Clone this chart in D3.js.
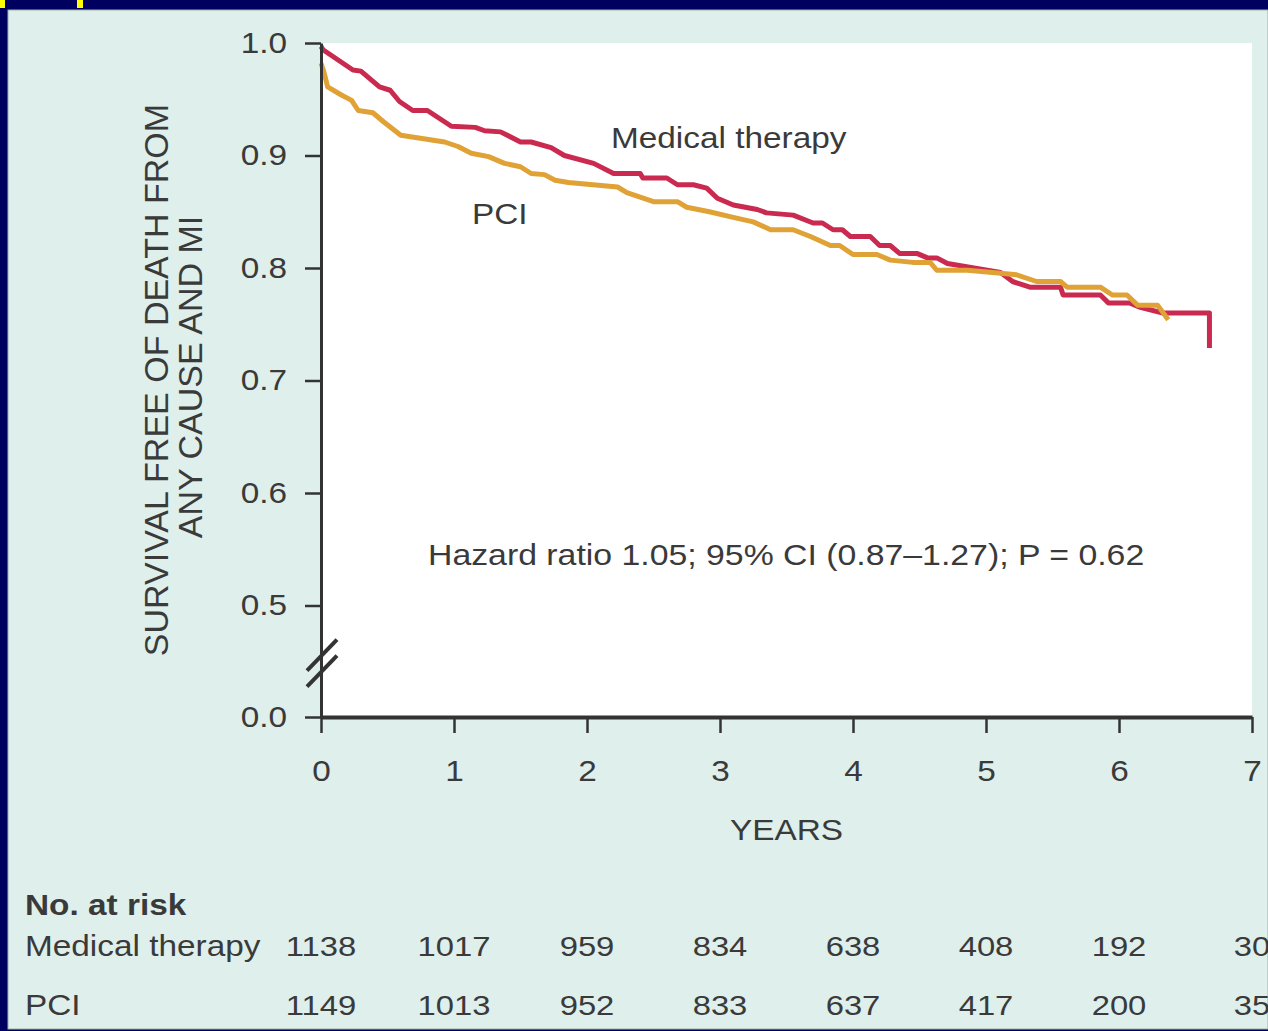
<!DOCTYPE html>
<html>
<head>
<meta charset="utf-8">
<script src="https://cdn.jsdelivr.net/npm/d3@7"></script>
<style>
  html, body { margin: 0; padding: 0; background: #00005e; }
  svg { display: block; }
</style>
</head>
<body>
<div id="chart"></div>
<script>

// Kaplan-Meier curves (years, survival)
const medYears = [0, 0.015, 0.24, 0.30, 0.44, 0.52, 0.59, 0.69, 0.80, 0.98, 1.16, 1.23, 1.35, 1.50, 1.58, 1.73, 1.83,
    2.05, 2.20, 2.40, 2.42, 2.60, 2.68, 2.80, 2.90, 2.98, 3.10, 3.28, 3.35, 3.55, 3.70, 3.77, 3.85, 3.92, 3.98,
    4.13, 4.20, 4.28, 4.35, 4.48, 4.56, 4.63, 4.71, 5.11, 5.20, 5.33, 5.56, 5.58, 5.86, 5.92, 6.08, 6.16, 6.33,
    6.68, 6.68];
const medSurv = [0.997, 0.994, 0.976, 0.975, 0.961, 0.958, 0.948, 0.940, 0.940, 0.926, 0.925, 0.922, 0.921, 0.912, 0.912, 0.907, 0.900,
    0.893, 0.884, 0.884, 0.880, 0.880, 0.874, 0.874, 0.871, 0.862, 0.856, 0.852, 0.849, 0.847, 0.840, 0.840, 0.834, 0.834, 0.828,
    0.828, 0.820, 0.820, 0.813, 0.813, 0.809, 0.809, 0.804, 0.796, 0.788, 0.783, 0.783, 0.776, 0.776, 0.769, 0.769, 0.765, 0.760,
    0.760, 0.729];

const pciYears = [0, 0.02, 0.05, 0.15, 0.23, 0.28, 0.39, 0.47, 0.60, 0.71, 0.93, 1.03, 1.13, 1.26, 1.38, 1.50, 1.58, 1.68,
    1.76, 1.86, 2.23, 2.30, 2.50, 2.68, 2.75, 2.92, 3.10, 3.25, 3.38, 3.55, 3.68, 3.83, 3.90, 4.00, 4.18, 4.28, 4.45,
    4.58, 4.63, 4.86, 5.05, 5.23, 5.38, 5.56, 5.61, 5.86, 5.95, 6.06, 6.14, 6.29, 6.37];
const pciSurv = [0.982, 0.975, 0.961, 0.954, 0.949, 0.940, 0.938, 0.930, 0.918, 0.916, 0.912, 0.908, 0.902, 0.899, 0.893, 0.890, 0.884, 0.883,
    0.878, 0.876, 0.872, 0.867, 0.859, 0.859, 0.854, 0.850, 0.845, 0.841, 0.834, 0.834, 0.828, 0.820, 0.820, 0.812, 0.812, 0.807, 0.805,
    0.805, 0.798, 0.798, 0.796, 0.794, 0.788, 0.788, 0.783, 0.783, 0.776, 0.776, 0.767, 0.767, 0.754];

const xTicks = [0, 1, 2, 3, 4, 5, 6, 7];
const yTicks = [0, 0.5, 0.6, 0.7, 0.8, 0.9, 1.0];

const riskGroups = ['Medical therapy', 'PCI'];
const riskMed = [1138, 1017, 959, 834, 638, 408, 192, 30];
const riskPci = [1149, 1013, 952, 833, 637, 417, 200, 35];

const W = 1268, H = 1031;
const FONT = '"Liberation Sans", Arial, Helvetica, sans-serif';
const SX = 1.15;          // glyphs in the figure are a bit wide
const textColor = '#3a3a3a';
const axisColor = '#333333';
const medColor = '#ca2a4f';
const pciColor = '#e0a135';

const svg = d3.select('#chart').append('svg')
    .attr('width', W)
    .attr('height', H)
    .style('font-family', FONT);

// frame
svg.append('rect').attr('width', W).attr('height', H).attr('fill', '#00005e');
svg.append('rect').attr('x', 0).attr('y', 0).attr('width', 5).attr('height', 8).attr('fill', '#ffff00');
svg.append('rect').attr('x', 77).attr('y', 0).attr('width', 6).attr('height', 8).attr('fill', '#ffff00');
svg.append('rect')
    .attr('x', 8).attr('y', 10)
    .attr('width', W - 8).attr('height', 1019)
    .attr('fill', '#dfefec')
    .attr('stroke', '#9fb0ad')
    .attr('stroke-width', 1);

const xScale = d3.scaleLinear().domain([0, 7]).range([321, 1252]);
// broken axis: 0.0 sits one step below 0.5
const yScale = d3.scaleLinear().domain([0, 0.5, 1]).range([717, 605.5, 43]);

// white plotting panel
svg.append('rect')
    .attr('x', xScale(0)).attr('y', yScale(1))
    .attr('width', xScale(7) - xScale(0))
    .attr('height', yScale(0) - yScale(1))
    .attr('fill', '#ffffff');

// horizontal text helper: stretched a little on x
function label(x, y, str, size, opts = {}) {
    const g = svg.append('g').attr('transform', `translate(${x},${y}) scale(${SX},1)`);
    g.append('text')
        .attr('text-anchor', opts.anchor || 'start')
        .attr('font-size', size)
        .attr('font-weight', opts.bold ? 'bold' : 'normal')
        .attr('fill', textColor)
        .text(str);
    return g;
}

// curves
const line = d3.line()
    .x(d => xScale(d[0]))
    .y(d => yScale(d[1]));

svg.append('path')
    .datum(d3.zip(medYears, medSurv))
    .attr('d', line)
    .attr('fill', 'none')
    .attr('stroke', medColor)
    .attr('stroke-width', 5)
    .attr('stroke-linejoin', 'round');

svg.append('path')
    .datum(d3.zip(pciYears, pciSurv))
    .attr('d', line)
    .attr('fill', 'none')
    .attr('stroke', pciColor)
    .attr('stroke-width', 5)
    .attr('stroke-linejoin', 'round');

// axes
const yAxis = d3.axisLeft(yScale)
    .tickValues(yTicks)
    .tickFormat(d3.format('.1f'))
    .tickSizeInner(16)
    .tickSizeOuter(0)
    .tickPadding(18);

const gy = svg.append('g')
    .attr('transform', `translate(${xScale(0)},0)`)
    .call(yAxis);

gy.select('.domain').attr('stroke', axisColor).attr('stroke-width', 3);
gy.selectAll('.tick line').attr('stroke', axisColor).attr('stroke-width', 2.5);
gy.selectAll('.tick text')
    .attr('font-family', FONT)
    .attr('font-size', 29)
    .attr('fill', textColor)
    .attr('x', -34 / SX)
    .attr('transform', `scale(${SX},1)`);

const xAxis = d3.axisBottom(xScale)
    .tickValues(xTicks)
    .tickFormat(d3.format('d'))
    .tickSizeInner(16)
    .tickSizeOuter(0)
    .tickPadding(27);

const gx = svg.append('g')
    .attr('transform', `translate(0,${yScale(0)})`)
    .call(xAxis);

gx.select('.domain').attr('stroke', axisColor).attr('stroke-width', 4);
gx.selectAll('.tick line').attr('stroke', axisColor).attr('stroke-width', 2.5);
gx.selectAll('.tick text')
    .attr('font-family', FONT)
    .attr('font-size', 29)
    .attr('fill', textColor)
    .attr('transform', `scale(${SX},1)`);

// axis break marks between 0.0 and 0.5
const breakY = yScale(0.5) + 0.53 * (yScale(0) - yScale(0.5));
[-8, 8].forEach(off => {
    svg.append('line')
        .attr('x1', xScale(0) - 14).attr('y1', breakY + off + 14)
        .attr('x2', xScale(0) + 16).attr('y2', breakY + off - 17)
        .attr('stroke', axisColor)
        .attr('stroke-width', 4);
});

// axis titles
label((xScale(0) + xScale(7)) / 2, 840, 'YEARS', 29, { anchor: 'middle' });

const yMid = (yScale(0) + yScale(1)) / 2;
svg.append('text')
    .attr('transform', `translate(168,${yMid}) rotate(-90)`)
    .attr('text-anchor', 'middle')
    .attr('font-size', 34)
    .attr('fill', textColor)
    .text('SURVIVAL FREE OF DEATH FROM');
svg.append('text')
    .attr('transform', `translate(202,${yMid - 3}) rotate(-90)`)
    .attr('text-anchor', 'middle')
    .attr('font-size', 34)
    .attr('fill', textColor)
    .text('ANY CAUSE AND MI');

// annotations
label(611, 148, 'Medical therapy', 29);
label(472, 224, 'PCI', 29);
label(428, 565, 'Hazard ratio 1.05; 95% CI (0.87\u20131.27); P = 0.62', 29.4);

// number at risk table
label(25, 915, 'No. at risk', 29, { bold: true });
const rowY = [956, 1015];
[riskMed, riskPci].forEach((row, i) => {
    label(25, rowY[i], riskGroups[i], 29);
    row.forEach((n, j) => {
        label(xScale(xTicks[j]), rowY[i], n, 28.5, { anchor: 'middle' });
    });
});

</script>
</body>
</html>
